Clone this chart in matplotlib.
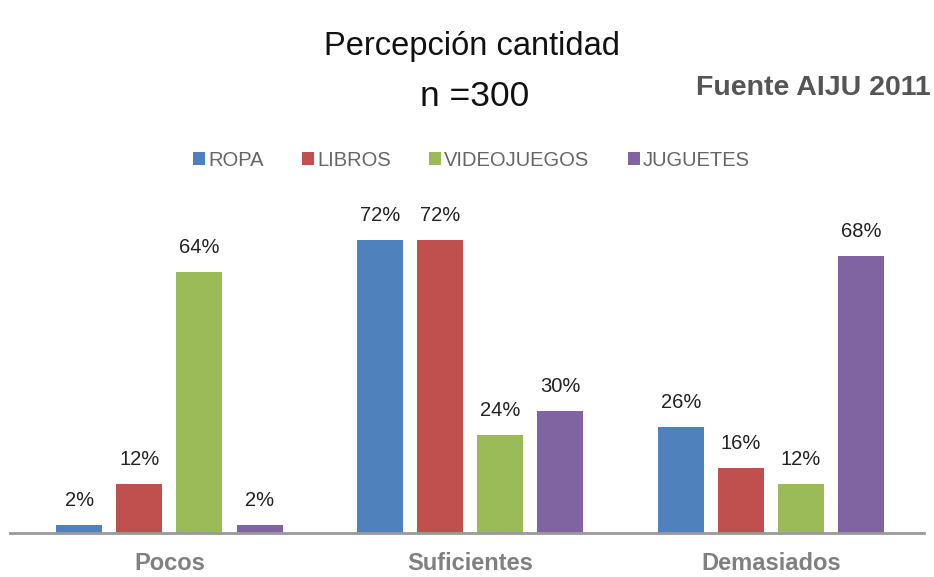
import matplotlib.pyplot as plt
import numpy as np

categories = ["Pocos", "Suficientes", "Demasiados"]
series = ["ROPA", "LIBROS", "VIDEOJUEGOS", "JUGUETES"]
ropa = [2, 72, 26]
libros = [12, 72, 16]
videojuegos = [64, 24, 12]
juguetes = [2, 30, 68]
colors = ["#4F81BD", "#C0504D", "#9BBB59", "#8064A2"]

plt.rcParams['font.family'] = ['Liberation Sans', 'DejaVu Sans']

fig = plt.figure(figsize=(9.34, 5.77), dpi=100)
ax = fig.add_axes([0.0107, 0.0763, 0.979, 0.577])

x = np.arange(len(categories))
width = 0.153
step = 0.2
values = [ropa, libros, videojuegos, juguetes]
for i, (name, vals, c) in enumerate(zip(series, values, colors)):
    pos = x + (i - 1.5) * step
    ax.bar(pos, vals, width, color=c, label=name)
    for p, v in zip(pos, vals):
        ax.annotate(f"{v}%", (p, v), xytext=(0, 11), textcoords="offset points",
                    ha="center", va="bottom", fontsize=14.5, color="#222222")

ax.set_xlim(-0.53, 2.51)
ax.set_ylim(0, 81.8)
ax.set_yticks([])
ax.set_xticks(x)
ax.set_xticklabels(categories, fontsize=17, color="#808080", fontweight="bold")
ax.tick_params(axis="x", length=0, pad=14)
for s in ["top", "right", "left"]:
    ax.spines[s].set_visible(False)
ax.spines["bottom"].set_color("#999999")
ax.spines["bottom"].set_linewidth(2)

fig.text(0.505, 0.919, "Percepción cantidad", ha="center", va="center", fontsize=23.5, color="#111111")
fig.text(0.508, 0.832, "n =300", ha="center", va="center", fontsize=25.5, color="#111111")
fig.text(0.996, 0.847, "Fuente AIJU 2011", ha="right", va="center", fontsize=20.5,
         fontweight="bold", color="#555555")

fig.legend(loc="center", bbox_to_anchor=(0.505, 0.722), ncol=4, frameon=False,
           fontsize=14.5, handlelength=0.6, handleheight=0.6, handletextpad=0.15,
           columnspacing=1.9, labelcolor="#666666")

fig.savefig("out.png", dpi=100)
